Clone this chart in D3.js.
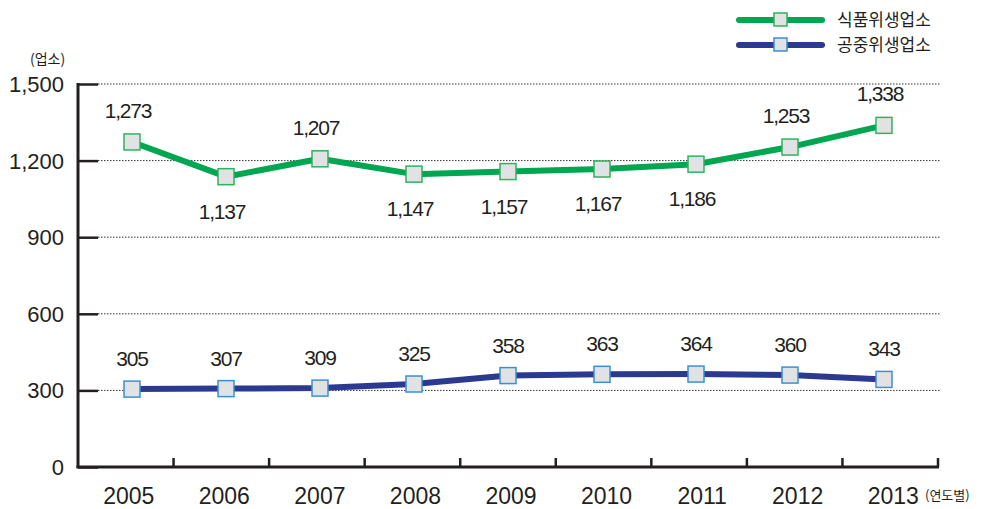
<!DOCTYPE html>
<html>
<head>
<meta charset="utf-8">
<script src="https://cdn.jsdelivr.net/npm/d3@7/dist/d3.min.js"></script>
<style>
  html, body { margin: 0; padding: 0; background: #fff; }
  svg { display: block; }
  text { font-family: "Liberation Sans", "Noto Sans CJK KR", sans-serif; fill: #231f20; }
  .kr { font-family: "Noto Sans CJK KR", sans-serif; }
</style>
</head>
<body>
<svg id="chart" width="982" height="509"></svg>
<script>
// Business counts by year
const years = ["2005", "2006", "2007", "2008", "2009", "2010", "2011", "2012", "2013"];
const foodHygiene = [1273, 1137, 1207, 1147, 1157, 1167, 1186, 1253, 1338];
const publicHygiene = [305, 307, 309, 325, 358, 363, 364, 360, 343];
const yTicks = [0, 300, 600, 900, 1200, 1500];
const seriesNames = ["식품위생업소", "공중위생업소"];
// label placement for food-hygiene values: true = above the point
const foodLabelAbove = [true, false, true, false, false, false, false, true, true];

const svg = d3.select("#chart");
const plotLeft = 78, plotRight = 938, plotTop = 84, plotBottom = 467;

const y = d3.scaleLinear().domain([0, 1500]).range([plotBottom, plotTop]);
const xBand = d3.scaleBand().domain(years).range([plotLeft, plotRight]);
const xPt = d3.scalePoint().domain(years).range([132, 884]);

const fmt = d3.format(",");

// dotted gridlines
svg.append("g").selectAll("line")
  .data(yTicks.filter(d => d > 0))
  .join("line")
  .attr("x1", plotLeft + 20).attr("x2", plotRight + 2)
  .attr("y1", d => y(d)).attr("y2", d => y(d))
  .attr("stroke", "#333").attr("stroke-width", 1)
  .attr("stroke-dasharray", "1.5,1.5");

// y axis
const yAxis = svg.append("g").attr("transform", `translate(${plotLeft},0)`)
  .call(d3.axisRight(y).tickValues(yTicks).tickSize(20).tickFormat(""));
yAxis.select(".domain").remove();
yAxis.selectAll(".tick line").attr("stroke", "#231f20").attr("stroke-width", 2.5);
svg.append("line")
  .attr("x1", plotLeft).attr("x2", plotLeft).attr("y1", plotTop - 1).attr("y2", plotBottom + 1)
  .attr("stroke", "#231f20").attr("stroke-width", 3);

svg.append("g").selectAll("text")
  .data(yTicks).join("text")
  .attr("x", plotLeft - 14).attr("y", d => y(d) + 8)
  .attr("text-anchor", "end")
  .attr("font-size", 22)
  .text(d => fmt(d));

// x axis
svg.append("line")
  .attr("x1", plotLeft - 1.5).attr("x2", plotRight + 1).attr("y1", plotBottom).attr("y2", plotBottom)
  .attr("stroke", "#231f20").attr("stroke-width", 3);
const bounds = years.slice(1).map(d => xBand(d)).concat([plotRight]);
svg.append("g").selectAll("line")
  .data(bounds).join("line")
  .attr("x1", d => d).attr("x2", d => d)
  .attr("y1", plotBottom).attr("y2", plotBottom - 9)
  .attr("stroke", "#231f20").attr("stroke-width", 2.5);

svg.append("g").selectAll("text")
  .data(years).join("text")
  .attr("x", d => xBand(d) + xBand.bandwidth() / 2 + 3)
  .attr("y", 504)
  .attr("text-anchor", "middle")
  .attr("font-size", 23)
  .text(d => d);

// unit labels
svg.append("text").attr("class", "kr")
  .attr("x", 30).attr("y", 64).attr("font-size", 14).text("(업소)");
svg.append("text").attr("class", "kr")
  .attr("x", 925).attr("y", 500).attr("font-size", 13).text("(연도별)");

// series
const series = [
  { name: seriesNames[0], values: foodHygiene, line: "#00a650", mark: "#2fb35d" },
  { name: seriesNames[1], values: publicHygiene, line: "#2b3990", mark: "#3b8fd4" }
];

const lineGen = d3.line().x((d, i) => xPt(years[i])).y(d => y(d));

series.forEach(s => {
  svg.append("path")
    .datum(s.values)
    .attr("d", lineGen)
    .attr("fill", "none")
    .attr("stroke", s.line)
    .attr("stroke-width", 6)
    .attr("stroke-linejoin", "round");
  svg.append("g").selectAll("rect")
    .data(s.values).join("rect")
    .attr("x", (d, i) => xPt(years[i]) - 8)
    .attr("y", d => y(d) - 8)
    .attr("width", 16).attr("height", 16)
    .attr("fill", "#e1e2e4")
    .attr("stroke", s.mark).attr("stroke-width", 1.5);
});

// value labels
svg.append("g").selectAll("text")
  .data(foodHygiene).join("text")
  .attr("x", (d, i) => xPt(years[i]) - 4)
  .attr("y", (d, i) => foodLabelAbove[i] ? y(d) - 24 : y(d) + 42)
  .attr("text-anchor", "middle")
  .attr("font-size", 21)
  .attr("letter-spacing", -1.2)
  .text(d => fmt(d));

svg.append("g").selectAll("text")
  .data(publicHygiene).join("text")
  .attr("x", (d, i) => xPt(years[i]))
  .attr("y", d => y(d) - 23)
  .attr("text-anchor", "middle")
  .attr("font-size", 21)
  .attr("letter-spacing", -1.2)
  .text(d => fmt(d));

// legend
const legend = svg.append("g");
series.forEach((s, i) => {
  const ly = 20 + i * 25;
  legend.append("line")
    .attr("x1", 739).attr("x2", 822).attr("y1", ly).attr("y2", ly)
    .attr("stroke", s.line).attr("stroke-width", 6).attr("stroke-linecap", "round");
  legend.append("rect")
    .attr("x", 774).attr("y", ly - 7).attr("width", 13).attr("height", 13)
    .attr("fill", "#e1e2e4").attr("stroke", s.mark).attr("stroke-width", 1.5);
  legend.append("text").attr("class", "kr")
    .attr("x", 837).attr("y", ly + 6).attr("font-size", 17)
    .text(s.name);
});
</script>
</body>
</html>
